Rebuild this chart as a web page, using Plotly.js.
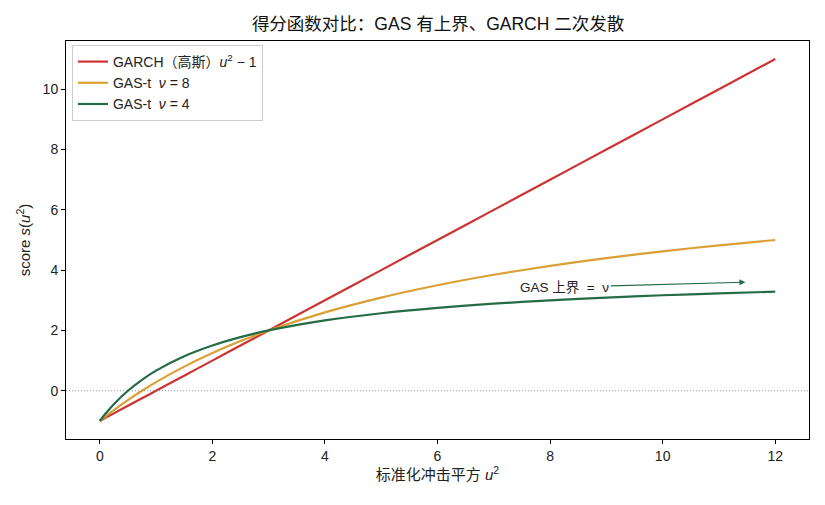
<!DOCTYPE html>
<html>
<head>
<meta charset="utf-8">
<script src="https://cdn.plot.ly/plotly-3.0.1.min.js"></script>
<style>
  html, body { margin: 0; padding: 0; background: #fff; }
  #plot { width: 825px; height: 505px; }
</style>
</head>
<body>
<div id="plot"></div>
<script>
// standardised squared shock u^2
const u2 = [0, 0.1, 0.25, 0.5, 0.75, 1, 1.5, 2, 2.5, 3, 4, 5, 6, 7, 8, 9, 10, 11, 12];

// GARCH (gaussian) score u^2 - 1
const garch = [-1, -0.9, -0.75, -0.5, -0.25, 0, 0.5, 1, 1.5, 2, 3, 4, 5, 6, 7, 8, 9, 10, 11];
// GAS-t nu = 8
const gasNu8 = [-1, -0.852, -0.64, -0.308, 0.0, 0.286, 0.8, 1.25, 1.647, 2.0, 2.6, 3.091, 3.5, 3.846, 4.143, 4.4, 4.625, 4.824, 5.0];
// GAS-t nu = 4
const gasNu4 = [-1, -0.762, -0.444, 0.0, 0.364, 0.667, 1.143, 1.5, 1.778, 2.0, 2.333, 2.571, 2.75, 2.889, 3.0, 3.091, 3.167, 3.231, 3.286];

const seriesNames = [
    "GARCH（高斯）<i>u</i><sup>2</sup> − 1",
    "GAS-t  <i>ν</i> = 8",
    "GAS-t  <i>ν</i> = 4"
];
const colors = ["#cc3333", "#daa035", "#246b47"];

const fontFamily = '"Liberation Sans", Arial, "Noto Sans CJK SC", sans-serif';

const traces = [garch, gasNu8, gasNu4].map((ys, i) => ({
    type: "scatter",
    mode: "lines",
    x: u2,
    y: ys,
    name: seriesNames[i],
    line: { color: colors[i], width: 2.2, shape: "spline", smoothing: 0.6 }
}));

const axisCommon = {
    showline: true,
    mirror: true,
    linecolor: "#000",
    linewidth: 1,
    showgrid: false,
    zeroline: false,
    ticks: "outside",
    ticklen: 4,
    tickwidth: 1,
    tickcolor: "#000",
    tickfont: { size: 14, color: "#222" }
};

const layout = {
    width: 825,
    height: 505,
    margin: { l: 66, r: 16, t: 41, b: 66 },
    paper_bgcolor: "#fff",
    plot_bgcolor: "#fff",
    font: { family: fontFamily, color: "#222" },
    title: {
        text: "得分函数对比：GAS 有上界、GARCH 二次发散",
        font: { size: 17.5, color: "#111" },
        x: 0.531, xanchor: "center",
        y: 0.953, yanchor: "middle"
    },
    xaxis: Object.assign({}, axisCommon, {
        range: [-0.6, 12.6],
        tickvals: [0, 2, 4, 6, 8, 10, 12],
        title: { text: "标准化冲击平方 <i>u</i><sup>2</sup>", font: { size: 15 }, standoff: 6 }
    }),
    yaxis: Object.assign({}, axisCommon, {
        range: [-1.6, 11.6],
        tickvals: [0, 2, 4, 6, 8, 10],
        title: { text: "score <i>s</i>(<i>u</i><sup>2</sup>)", font: { size: 15 }, standoff: 8 }
    }),
    legend: {
        x: 0.008, y: 0.99,
        xanchor: "left", yanchor: "top",
        bgcolor: "rgba(255,255,255,0.85)",
        bordercolor: "#cccccc",
        borderwidth: 1,
        font: { size: 14, color: "#222" },
        tracegroupgap: 0,
        itemwidth: 30
    },
    shapes: [{
        type: "line", xref: "paper", x0: 0, x1: 1, yref: "y", y0: 0, y1: 0,
        line: { color: "#777", width: 0.8, dash: "1px,2px" }
    }],
    annotations: [{
        x: 11.47, y: 3.6, xref: "x", yref: "y",
        ax: 8.26, ay: 3.44, axref: "x", ayref: "y",
        text: "GAS 上界 &nbsp;=&nbsp; ν",
        showarrow: true,
        arrowhead: 2,
        arrowsize: 1,
        arrowwidth: 1.2,
        arrowcolor: colors[2],
        font: { size: 13.5, color: "#222" }
    }],
    showlegend: true
};

Plotly.newPlot("plot", traces, layout, { displayModeBar: false, staticPlot: true });
</script>
</body>
</html>
